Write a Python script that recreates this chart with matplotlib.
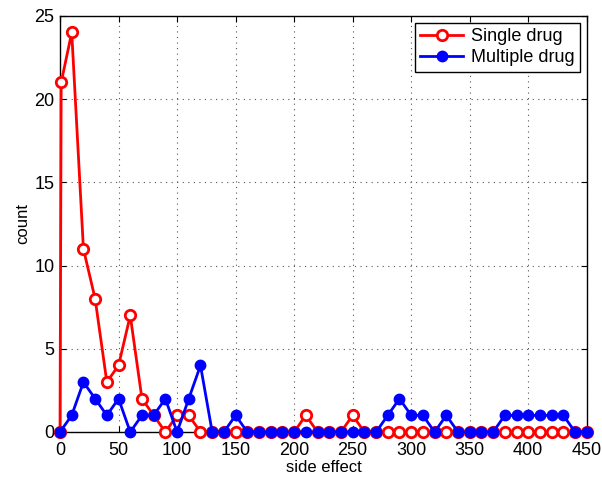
import matplotlib
matplotlib.use("Agg")
import matplotlib.pyplot as plt

plt.rcParams['font.family'] = ['Liberation Sans', 'DejaVu Sans']

single_x = [0, 1, 10, 20, 30, 40, 50, 60, 70, 80, 90, 100, 110] + list(range(120, 451, 10))
single_y = [0, 21, 24, 11, 8, 3, 4, 7, 2, 1, 0, 1, 1] + [
    0, 0, 0, 0, 0, 0, 0, 0, 0,   # 120-200
    1,                           # 210
    0, 0, 0,                     # 220-240
    1,                           # 250
    0, 0, 0, 0, 0, 0, 0, 0, 0, 0,  # 260-350
    0, 0, 0, 0, 0, 0, 0, 0, 0, 0]  # 360-450
multi_x = list(range(0, 451, 10))
multi_y = [0, 1, 3, 2, 1, 2, 0, 1, 1, 2,      # 0-90
           0, 2, 4, 0, 0, 1, 0, 0, 0, 0,      # 100-190
           0, 0, 0, 0, 0, 0, 0, 0, 1, 2,      # 200-290
           1, 1, 0, 1, 0, 0, 0, 0, 1, 1,      # 300-390
           1, 1, 1, 1, 0, 0]                  # 400-450
xticks = list(range(0, 451, 50))
yticks = [0, 5, 10, 15, 20, 25]

fig = plt.figure(figsize=(6.02, 4.80), dpi=100)
ax = fig.add_axes([0.0997, 0.1, 0.875, 0.867])
ax.plot(single_x, single_y, '-o', color='red', lw=2, ms=7.5, mfc='white', mec='red', mew=2,
        label='Single drug', zorder=3, clip_on=False)
ax.plot(multi_x, multi_y, '-o', color='blue', lw=2, ms=7.5, mfc='blue', mec='blue',
        label='Multiple drug', zorder=4, clip_on=False)
ax.set_xlim(0, 450)
ax.set_ylim(0, 25)
ax.set_xticks(xticks)
ax.set_yticks(yticks)
ax.tick_params(direction='in', top=True, right=True, labelsize=13, length=4, width=0.8)
ax.tick_params(axis='x', pad=7)
ax.tick_params(axis='y', pad=4)
ax.grid(True, linestyle=(0, (1, 4)), color='#555555', lw=0.8)
for s in ax.spines.values():
    s.set_linewidth(1)
ax.set_xlabel('side effect', fontsize=12, labelpad=1)
ax.set_ylabel('count', fontsize=12, labelpad=3)
leg = ax.legend(loc='upper right', fontsize=13, fancybox=False, edgecolor='black',
                framealpha=1, borderaxespad=0.4, handlelength=2.4, handletextpad=0.4,
                borderpad=0.3, labelspacing=0.2)
leg.get_frame().set_linewidth(1)
fig.savefig('out.png', dpi=100)
